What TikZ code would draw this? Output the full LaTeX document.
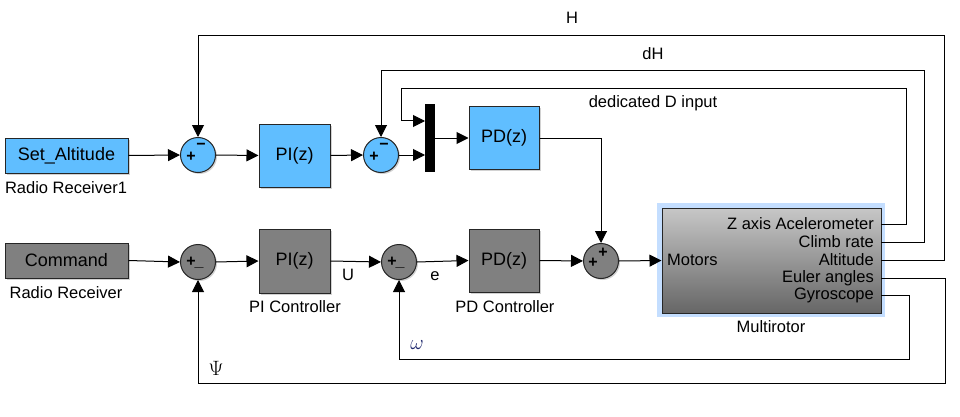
\documentclass[tikz,border=0pt]{standalone}
\usepackage{fontspec}
\setmainfont{Liberation Sans}
\usetikzlibrary{arrows.meta,shadows,calc}
\definecolor{sblue}{RGB}{96,190,255}
\definecolor{sgray}{RGB}{128,128,128}
\definecolor{glow}{RGB}{196,222,255}
\definecolor{omegablue}{RGB}{30,40,110}
\begin{document}
\begin{tikzpicture}[x=1pt,y=-1pt,
  every node/.style={font=\fontsize{16.5}{18}\selectfont, inner sep=0pt},
  blk/.style={draw=black!85, line width=1pt, rectangle, font=\fontsize{18}{20}\selectfont,
    drop shadow={shadow xshift=1.5pt, shadow yshift=-1.5pt, opacity=0.35}},
  sumnode/.style={draw=black!85, line width=1pt, circle, minimum size=35pt,
    drop shadow={shadow xshift=1.5pt, shadow yshift=-1.5pt, opacity=0.35}},
  sgn/.style={font=\fontsize{16}{16}\selectfont\bfseries},
  sig/.style={line width=1pt, -{Triangle[length=12pt,width=12pt]}},
  lbl/.style={font=\fontsize{16.5}{18}\selectfont},
  greek/.style={font=\fontsize{21}{22}\selectfont}
]
\useasboundingbox[fill=white] (0,0) rectangle (960,417);

% ---------- top row ----------
\node[blk, fill=sblue, minimum width=123pt, minimum height=35pt] (setalt) at (66.5,155.5) {Set\_Altitude};
\node[lbl] (rr1) at (66,188) {Radio Receiver1};
\node[sumnode, fill=sblue] (s1) at (198,155) {};
\node[blk, fill=sblue, minimum width=71pt, minimum height=63pt] (pi1) at (294.5,155.5) {PI(z)};
\node[sumnode, fill=sblue] (s2) at (381,155) {};
\node[rectangle, fill=black, minimum width=10pt, minimum height=68pt] (mux) at (430,138) {};
\node[blk, fill=sblue, minimum width=70pt, minimum height=62pt] (pd1) at (504,138) {PD(z)};

% ---------- bottom row ----------
\node[blk, fill=sgray, minimum width=123pt, minimum height=35pt] (cmd) at (66.5,260.5) {Command};
\node[lbl] (rr) at (66,293) {Radio Receiver};
\node[sumnode, fill=sgray] (s3) at (198,262) {};
\node[blk, fill=sgray, minimum width=71pt, minimum height=64pt] (pi2) at (294.5,261) {PI(z)};
\node[lbl] (pic) at (295,307) {PI Controller};
\node[sumnode, fill=sgray] (s4) at (399,262) {};
\node[blk, fill=sgray, minimum width=70pt, minimum height=63pt] (pd2) at (504,260.5) {PD(z)};
\node[lbl] (pdc) at (505,307) {PD Controller};
\node[sumnode, fill=sgray] (s5) at (601,261) {};

% ---------- multirotor ----------
\node[rectangle, fill=glow, minimum width=228pt, minimum height=114pt] (glowbox) at (771,260) {};
\node[draw=black!85, line width=1pt, rectangle, top color=black!22, bottom color=black!60,
      minimum width=219pt, minimum height=105pt] (multi) at (771.5,260.5) {};
\node[lbl] (multilbl) at (771,327) {Multirotor};
\node[lbl, anchor=west] (motors) at (667,260) {Motors};
\node[lbl, anchor=east] (lz) at (874,224) {Z axis Acelerometer};
\node[lbl, anchor=east] (lc) at (874,242) {Climb rate};
\node[lbl, anchor=east] (la) at (874,260) {Altitude};
\node[lbl, anchor=east] (le) at (874,278) {Euler angles};
\node[lbl, anchor=east] (lg) at (874,295) {Gyroscope};
\coordinate (pZ) at (881,224);
\coordinate (pClimb) at (881,242);
\coordinate (pAlt) at (881,260);
\coordinate (pEul) at (881,278);
\coordinate (pGyro) at (881,295);
\coordinate (muxin1) at (425,121);
\coordinate (muxin2) at (425,155);
\coordinate (muxout) at (435,138);

% ---------- sum signs ----------
\node[sgn] at ([shift={(-7,2)}]s1.center) {+};
\node[sgn] at ([shift={(3,-9)}]s1.center) {−};
\node[sgn] at ([shift={(-7,2)}]s2.center) {+};
\node[sgn] at ([shift={(3,-9)}]s2.center) {−};
\node[sgn] at ([shift={(-7,0)}]s3.center) {+};
\node[sgn] at ([shift={(1,5)}]s3.center) {\_};
\node[sgn] at ([shift={(-7,0)}]s4.center) {+};
\node[sgn] at ([shift={(1,5)}]s4.center) {\_};
\node[sgn] at ([shift={(-8,2)}]s5.center) {+};
\node[sgn] at ([shift={(2,-8)}]s5.center) {+};

% ---------- forward connectors ----------
\draw[sig] (setalt.east) -- (s1.west);
\draw[sig] (s1.east) -- (pi1.west);
\draw[sig] (pi1.east) -- (s2.west);
\draw[sig] (s2.east) -- (muxin2);
\draw[sig] (muxout) -- (pd1.west);
\draw[sig] (pd1.east) -| (s5.north);
\draw[sig] (cmd.east) -- (s3.west);
\draw[sig] (s3.east) -- (pi2.west);
\draw[sig] (pi2.east) -- (s4.west);
\draw[sig] (s4.east) -- (pd2.west);
\draw[sig] (pd2.east) -- (s5.west);
\draw[sig] (s5.east) -- (multi.west);

% ---------- feedback connectors ----------
\draw[sig] (pZ) -| (906,89) -| (401,121) -- (muxin1);
\draw[sig] (pClimb) -| (924,71) -| (s2.north);
\draw[sig] (pAlt) -| (944,36) -| (s1.north);
\draw[sig] (pEul) -| (945,383) -| (s3.south);
\draw[sig] (pGyro) -| (909,359) -| (s4.south);

% ---------- signal labels ----------
\node[lbl] (lH) at (572,18) {H};
\node[lbl] (ldH) at (653,54) {dH};
\node[lbl] (ldD) at (653,103) {dedicated D input};
\node[lbl] (lU) at (348,275) {U};
\node[lbl] (le2) at (435,276) {e};
\node[greek, text=omegablue] (lw) at (417,345) {$\omega$};
\node[greek] (lpsi) at (216,368) {$\Psi$};
\end{tikzpicture}
\end{document}
